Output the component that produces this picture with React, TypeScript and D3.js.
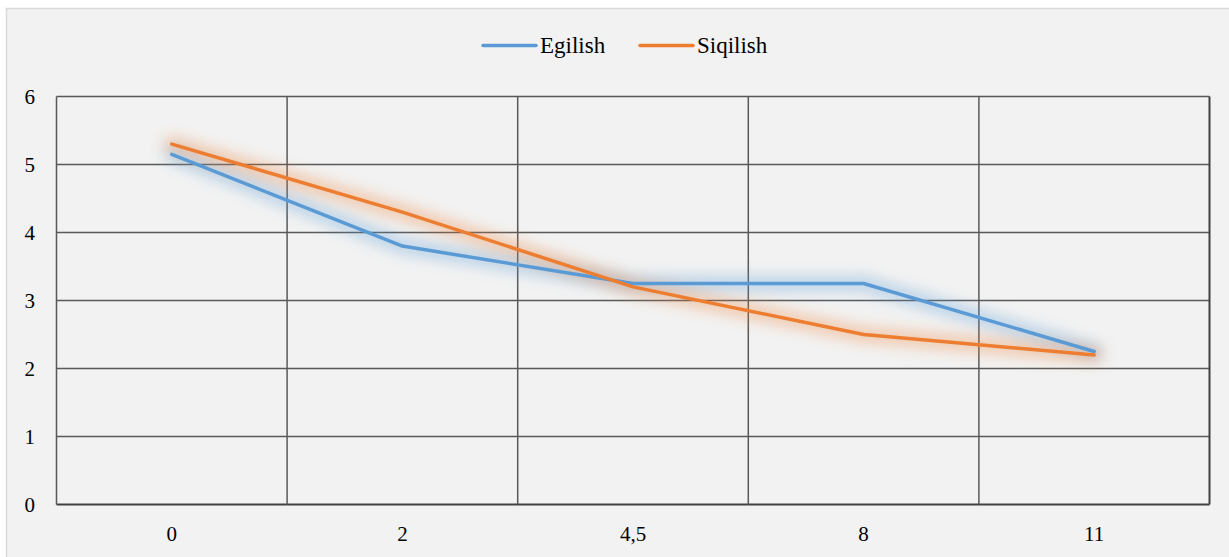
import React from "react";
import * as d3 from "d3";

const categories = ["0", "2", "4,5", "8", "11"];
const egilish = [5.15, 3.8, 3.25, 3.25, 2.25];
const siqilish = [5.3, 4.3, 3.2, 2.5, 2.2];
const yTicks = [0, 1, 2, 3, 4, 5, 6];

const series = [
  { name: "Egilish", values: egilish, color: "#5b9bd5" },
  { name: "Siqilish", values: siqilish, color: "#ed7d31" },
];

export default function App() {
  const W = 1229, H = 557;
  const left = 56.5, right = 1209.5, top = 96.5, bottom = 504.5;
  const x = d3.scaleBand<string>().domain(categories).range([left, right]).padding(0);
  const y = d3.scaleLinear().domain([0, 6]).range([bottom, top]);
  const line = d3
    .line<number>()
    .x((_, i) => (x(categories[i]) as number) + x.bandwidth() / 2)
    .y((d) => y(d));
  const gridEdges = categories.map((c) => x(c) as number).concat([right]);
  const font = "'Liberation Serif', 'Times New Roman', serif";

  return (
    <svg
      width={W}
      height={H}
      style={{ position: "absolute", left: 0, top: 0, display: "block" }}
    >
      <defs>
        <filter id="glow" x="-20%" y="-60%" width="140%" height="220%">
          <feGaussianBlur stdDeviation="7" />
        </filter>
      </defs>
      <rect x={0} y={0} width={W} height={H} fill="#ffffff" />
      <rect x={6.5} y={8.5} width={W} height={H} fill="#f2f2f2" stroke="#d9d9d9" strokeWidth={1.5} />

      {yTicks.map((t) => (
        <line
          key={"h" + t}
          x1={left}
          x2={right}
          y1={y(t)}
          y2={y(t)}
          stroke={t === 0 ? "#404040" : "#595959"}
          strokeWidth={t === 0 ? 2 : 1.5}
        />
      ))}
      {gridEdges.map((gx, i) => (
        <line
          key={"v" + i}
          x1={gx}
          x2={gx}
          y1={top}
          y2={bottom}
          stroke={i === gridEdges.length - 1 ? "#404040" : "#595959"}
          strokeWidth={i === gridEdges.length - 1 ? 2 : 1.5}
        />
      ))}

      {yTicks.map((t) => (
        <text
          key={"yl" + t}
          x={35}
          y={y(t)}
          dy="0.35em"
          textAnchor="end"
          fontFamily={font}
          fontSize={21}
          fill="#000"
        >
          {t}
        </text>
      ))}
      {categories.map((c) => (
        <text
          key={"xl" + c}
          x={(x(c) as number) + x.bandwidth() / 2}
          y={541}
          textAnchor="middle"
          fontFamily={font}
          fontSize={21}
          fill="#000"
        >
          {c}
        </text>
      ))}

      {series.map((s) => (
        <path
          key={"g" + s.name}
          d={line(s.values) || ""}
          fill="none"
          stroke={s.color}
          strokeWidth={16}
          strokeOpacity={0.35}
          strokeLinejoin="round"
          strokeLinecap="round"
          filter="url(#glow)"
        />
      ))}
      {series.map((s) => (
        <path
          key={"l" + s.name}
          d={line(s.values) || ""}
          fill="none"
          stroke={s.color}
          strokeWidth={3.5}
          strokeLinejoin="round"
          strokeLinecap="round"
        />
      ))}

      {series.map((s, i) => {
        const lx = i === 0 ? 483 : 640;
        return (
          <g key={"lg" + s.name}>
            <line x1={lx} x2={lx + 53} y1={45.5} y2={45.5} stroke={s.color} strokeWidth={3.5} strokeLinecap="round" />
            <text x={lx + 57} y={53} fontFamily={font} fontSize={23} fill="#000">
              {s.name}
            </text>
          </g>
        );
      })}
    </svg>
  );
}
